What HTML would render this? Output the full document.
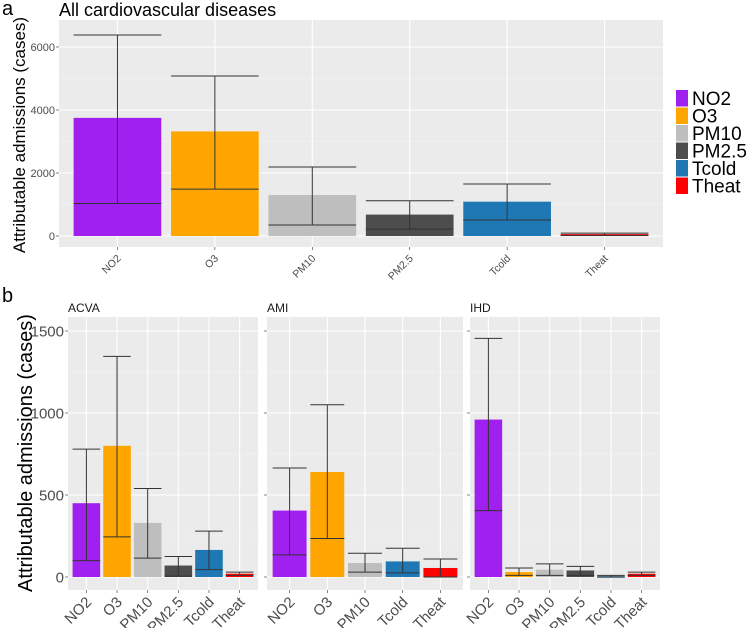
<!DOCTYPE html>
<html><head><meta charset="utf-8"><style>
body{margin:0;background:#fff;}
svg{display:block;font-family:"Liberation Sans",sans-serif;}
</style></head><body>
<svg id="c" width="746" height="628" viewBox="0 0 746 628" xmlns="http://www.w3.org/2000/svg">
<text x="2" y="15" font-size="20" fill="#000">a</text>
<text x="59" y="16" font-size="18" fill="#000">All cardiovascular diseases</text>
<text x="2" y="302" font-size="20" fill="#000">b</text>
<text transform="translate(25,135) rotate(-90)" text-anchor="middle" font-size="17" fill="#000">Attributable admissions (cases)</text>
<text transform="translate(32,453) rotate(-90)" text-anchor="middle" font-size="20" fill="#000">Attributable admissions (cases)</text>
</svg>
<script>
const categories=["NO2","O3","PM10","PM2.5","Tcold","Theat"];
const colors=["#A020F0","#FFA500","#BEBEBE","#4D4D4D","#1F78B4","#FF0000"];
const aMean=[3750,3320,1300,680,1090,60];
const aLow=[1030,1490,350,220,510,20];
const aHigh=[6380,5080,2190,1120,1650,90];
const aTicks=[0,2000,4000,6000];
const bTicks=[0,500,1000,1500];
const facetNames=["ACVA","AMI","IHD"];
const acvaCats=["NO2","O3","PM10","PM2.5","Tcold","Theat"];
const acvaMean=[450,800,330,70,165,20];
const acvaLow=[100,245,115,5,45,10];
const acvaHigh=[780,1345,540,125,280,30];
const amiCats=["NO2","O3","PM10","Tcold","Theat"];
const amiMean=[405,640,85,95,55];
const amiLow=[135,235,30,25,0];
const amiHigh=[665,1050,145,175,110];
const ihdCats=["NO2","O3","PM10","PM2.5","Tcold","Theat"];
const ihdMean=[960,30,45,40,5,20];
const ihdLow=[405,10,10,10,0,10];
const ihdHigh=[1455,55,80,65,10,30];

const svg=document.getElementById('c');
const NS="http://www.w3.org/2000/svg";
function mk(tag,attrs,parent){const e=document.createElementNS(NS,tag);for(const k in attrs)e.setAttribute(k,attrs[k]);(parent||svg).appendChild(e);return e;}

function panel(x0,x1,y0,y1,ymin,ymax,cats,mean,low,high,ticks,opt){
  const ys=v=>y1-(v-ymin)/(ymax-ymin)*(y1-y0);
  const n=cats.length,step=(x1-x0)/(n+0.2);
  const xs=i=>x0+step*(0.6+i);
  const g=mk('g',{});
  
  
  const bg=mk('rect',{x:x0,y:y0,width:x1-x0,height:y1-y0,fill:'#EBEBEB'},g);
  
  
  for(let i=0;i<ticks.length;i++){
    const y=ys(ticks[i]);
    mk('line',{x1:x0,x2:x1,y1:y,y2:y,stroke:'#fff','stroke-width':1.1},g);
    if(i<ticks.length-1){const ym=ys((ticks[i]+ticks[i+1])/2);mk('line',{x1:x0,x2:x1,y1:ym,y2:ym,stroke:'#F5F5F5','stroke-width':0.6},g);}
    mk('line',{x1:x0-3,x2:x0,y1:y,y2:y,stroke:'#333','stroke-width':0.6},g);
    if(opt.yLabels){const t=mk('text',{x:x0-4,y:y+opt.fs*0.35,'text-anchor':'end','font-size':opt.fs,fill:'#4D4D4D'},g);t.textContent=ticks[i];
      
      }
  }
  for(let i=0;i<n;i++){const x=xs(i);mk('line',{x1:x,x2:x,y1:y0,y2:y1,stroke:'#fff','stroke-width':1.1},g);}
  const bw=step*0.9;
  for(let i=0;i<n;i++){
    const x=xs(i),ci=categories.indexOf(cats[i]);
    const yt=ys(Math.max(mean[i],0)),yb=ys(0);
    const r=mk('rect',{x:x-bw/2,y:Math.min(yt,yb),width:bw,height:Math.max(Math.abs(yb-yt),1.5),fill:colors[ci]},g);
    
    
    const eh=mk('path',{d:`M${x-bw/2},${ys(low[i])}H${x+bw/2}M${x-bw/2},${ys(high[i])}H${x+bw/2}M${x},${ys(low[i])}V${ys(high[i])}`,stroke:'#333','stroke-width':1,fill:'none'},g);
    
    
    mk('line',{x1:x,x2:x,y1:y1,y2:y1+3,stroke:'#333','stroke-width':0.6},g);
    const t=mk('text',{transform:`translate(${x+opt.lx},${y1+opt.lo}) rotate(-45)`,'text-anchor':'end','font-size':opt.xfs,fill:'#4D4D4D'},g);
    t.textContent=cats[i];
    
    
  }
  if(opt.strip){const t=mk('text',{x:x0,y:y0-5,'font-size':12,fill:'#1a1a1a'},g);t.textContent=opt.strip;
    
    }
}
panel(59,663,20,247,-349,6857,categories,aMean,aLow,aHigh,aTicks,{name:'panel-a',yLabels:true,fs:11,xfs:10.5,lo:12,lx:4});
const bmin=-(590-577)/0.164,bmax=(577-317)/0.164;
panel(68,258,317,590,bmin,bmax,acvaCats,acvaMean,acvaLow,acvaHigh,bTicks,{name:'facet-acva',yLabels:true,fs:15,xfs:15,lo:13,lx:6,strip:facetNames[0]});
panel(267,463,317,590,bmin,bmax,amiCats,amiMean,amiLow,amiHigh,bTicks,{name:'facet-ami',yLabels:false,fs:15,xfs:15,lo:13,lx:6,strip:facetNames[1]});
panel(470,660,317,590,bmin,bmax,ihdCats,ihdMean,ihdLow,ihdHigh,bTicks,{name:'facet-ihd',yLabels:false,fs:15,xfs:15,lo:13,lx:6,strip:facetNames[2]});
const lg=mk('g',{});


for(let i=0;i<categories.length;i++){
  const y=90+i*17.5;
  const r=mk('rect',{x:676,y:y,width:12,height:16.5,fill:colors[i]},lg);
  
  
  const t=mk('text',{x:692,y:y+15,'font-size':19,fill:'#000'},lg);
  t.textContent=categories[i];
  
  
}
</script>
</body></html>
